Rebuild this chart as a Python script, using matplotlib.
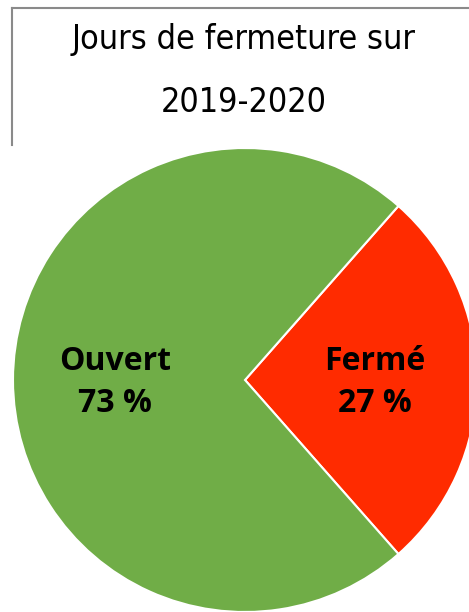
import numpy as np
import matplotlib
matplotlib.use('Agg')
import matplotlib.pyplot as plt
from matplotlib.lines import Line2D

# donnees
categories = ["Fermé", "Ouvert"]
valeurs = [27, 73]
couleurs = ["#FF2B00", "#70AD47"]
titre = ["Jours de fermeture sur", "2019-2020"]

W, H = 469, 612
fig = plt.figure(figsize=(W / 100, H / 100), dpi=100)

# cadre du titre (gris)
fig.add_artist(Line2D([12 / W, 12 / W], [1 - 8 / H, 1 - 145 / H], color="#8a8a8a", lw=1.5))
fig.add_artist(Line2D([12 / W, 1.0], [1 - 8 / H, 1 - 8 / H], color="#8a8a8a", lw=1.5))

for txt, y in zip(titre, [49, 112]):
    fig.text(244 / W, 1 - y / H, txt, ha="center", va="baseline", fontsize=24.5,
             family="DejaVu Sans", stretch="condensed")

# camembert
cx, cy, r = 245, 380, 232
ax = fig.add_axes([(cx - r) / W, (H - cy - r) / H, 2 * r / W, 2 * r / H])
start = 360 * valeurs[0] / 100 / 2
wedges, _ = ax.pie(valeurs, colors=couleurs, startangle=start, counterclock=False,
                   radius=1, wedgeprops=dict(edgecolor="white", linewidth=1.5))
ax.set_xlim(-1, 1)
ax.set_ylim(-1, 1)
ax.axis("off")

for w, nom, v in zip(wedges, categories, valeurs):
    ang = np.deg2rad((w.theta1 + w.theta2) / 2)
    ax.text(0.56 * np.cos(ang), 0.56 * np.sin(ang) - 0.01, f"{nom}\n{v} %",
            ha="center", va="center", fontsize=23, fontweight="bold",
            family=["Open Sans", "DejaVu Sans"], linespacing=1.38)

fig.savefig("out.png", dpi=100)
